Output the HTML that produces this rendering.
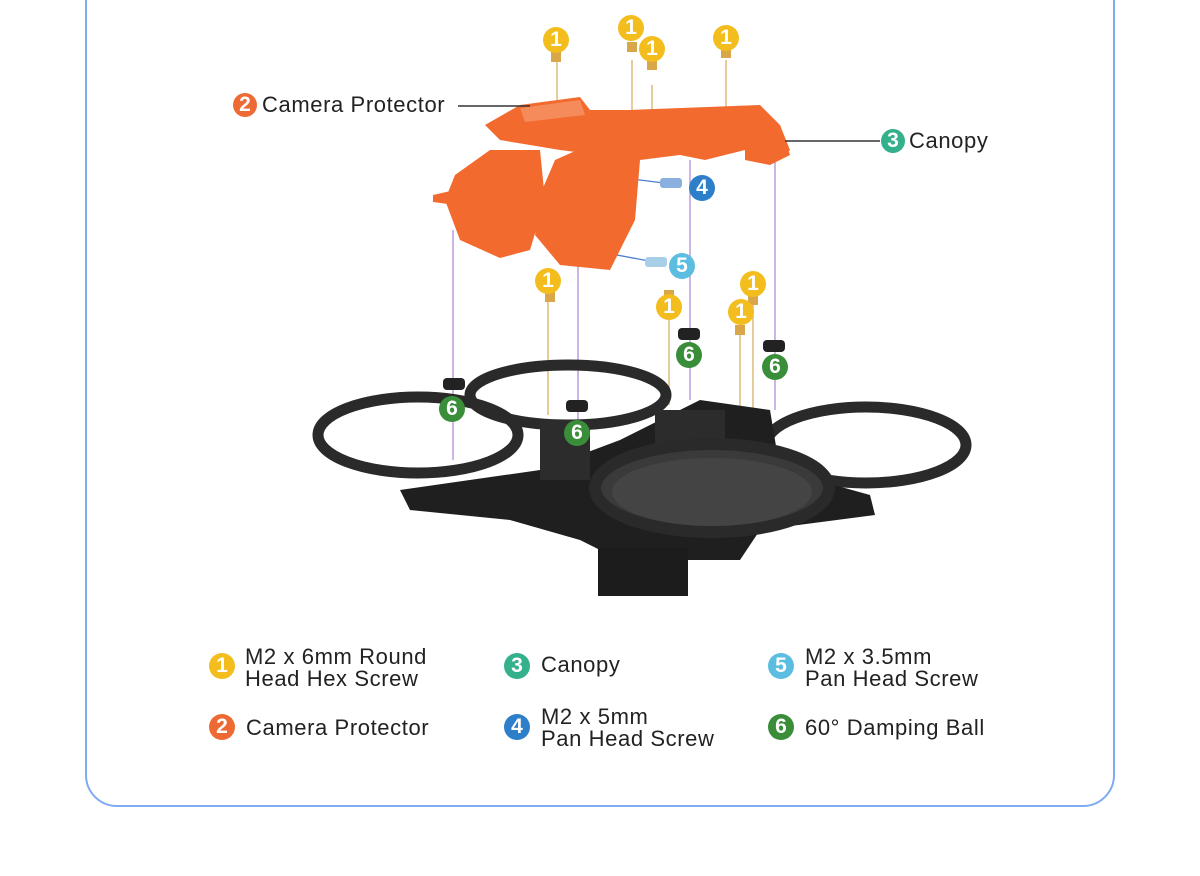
<!DOCTYPE html>
<html><head><meta charset="utf-8"><style>
html,body{margin:0;padding:0;background:#fff;}
body{width:1200px;height:876px;position:relative;overflow:hidden;font-family:"Liberation Sans",sans-serif;color:#222;}
.box{position:absolute;left:85px;top:-40px;width:1026px;height:843px;border:2.5px solid #7eabf2;border-radius:32px;}
.b{position:absolute;width:26px;height:26px;border-radius:50%;color:#fff;font-size:21px;line-height:26px;text-align:center;font-weight:bold;}
.t{position:absolute;font-size:22px;line-height:22px;color:#222;letter-spacing:0.6px;}
</style></head><body>
<div class="box"></div>
<svg width="1200" height="876" style="position:absolute;left:0;top:0">
<g stroke="#b58cd8" stroke-width="1.3">
<line x1="453" y1="230" x2="453" y2="460"/><line x1="578" y1="220" x2="578" y2="485"/>
<line x1="690" y1="160" x2="690" y2="400"/><line x1="775" y1="160" x2="775" y2="410"/>
</g>
<g stroke="#d8b060" stroke-width="1.3">
<line x1="557" y1="60" x2="557" y2="100"/><line x1="632" y1="60" x2="632" y2="110"/><line x1="652" y1="85" x2="652" y2="140"/><line x1="726" y1="60" x2="726" y2="110"/>
<line x1="548" y1="300" x2="548" y2="415"/><line x1="669" y1="300" x2="669" y2="405"/><line x1="740" y1="330" x2="740" y2="450"/><line x1="753" y1="300" x2="753" y2="420"/>
</g>
<g stroke="#4a7fd0" stroke-width="1.3"><line x1="600" y1="175" x2="680" y2="185"/><line x1="590" y1="250" x2="660" y2="263"/></g>
<g fill="none" stroke="#2a2a2a" stroke-width="11">
<ellipse cx="568" cy="395" rx="98" ry="30"/>
<ellipse cx="418" cy="435" rx="100" ry="38"/>
<ellipse cx="866" cy="445" rx="100" ry="38"/>
</g>
<path d="M400 490 L540 470 L620 440 L700 400 L770 410 L780 470 L870 495 L875 515 L760 530 L740 560 L620 560 L580 540 L510 520 L410 510Z" fill="#1f1f1f"/>
<rect x="540" y="420" width="50" height="60" fill="#2c2c2c"/><rect x="655" y="410" width="70" height="50" fill="#2c2c2c"/>
<rect x="598" y="548" width="90" height="48" fill="#1c1c1c"/>
<ellipse cx="712" cy="488" rx="117" ry="44" fill="#3a3a3a" stroke="#2a2a2a" stroke-width="12"/>
<ellipse cx="712" cy="492" rx="100" ry="34" fill="#444"/>
<g fill="#f26a2e">
<path d="M485 125 L520 105 L580 97 L590 110 L630 110 L760 105 L780 125 L790 150 L780 160 L745 150 L705 160 L680 155 L640 160 L560 150 L500 140Z"/>
<path d="M455 175 L490 150 L540 150 L545 200 L530 250 L500 258 L460 240 L445 200Z"/>
<path d="M555 160 L600 140 L640 160 L635 220 L610 270 L560 265 L535 235 L540 195Z"/>
<path d="M433 195 L455 190 L455 205 L433 202Z"/><path d="M745 130 L780 125 L790 155 L770 165 L745 160Z"/>
</g>
<path d="M520 108 L580 100 L585 115 L525 122Z" fill="#f58a5a"/>
<line x1="458" y1="106" x2="530" y2="106" stroke="#333" stroke-width="1.5"/>
<line x1="785" y1="141" x2="880" y2="141" stroke="#333" stroke-width="1.5"/>
<rect x="660" y="178" width="22" height="10" rx="3" fill="#8ab0e0"/><rect x="645" y="257" width="22" height="10" rx="3" fill="#a9cfe8"/>
<g fill="#222"><rect x="443" y="378" width="22" height="12" rx="4"/><rect x="566" y="400" width="22" height="12" rx="4"/><rect x="678" y="328" width="22" height="12" rx="4"/><rect x="763" y="340" width="22" height="12" rx="4"/></g>
<g fill="#d9a74a"><rect x="545" y="292" width="10" height="10"/><rect x="664" y="290" width="10" height="10"/><rect x="735" y="325" width="10" height="10"/><rect x="748" y="295" width="10" height="10"/>
<rect x="551" y="52" width="10" height="10"/><rect x="627" y="42" width="10" height="10"/><rect x="647" y="60" width="10" height="10"/><rect x="721" y="48" width="10" height="10"/></g>
</svg>
<div class="b" style="left:543px;top:27px;background:#f2bd1d">1</div>
<div class="b" style="left:618px;top:15px;background:#f2bd1d">1</div>
<div class="b" style="left:639px;top:36px;background:#f2bd1d">1</div>
<div class="b" style="left:713px;top:25px;background:#f2bd1d">1</div>
<div class="b" style="left:535px;top:268px;background:#f2bd1d">1</div>
<div class="b" style="left:656px;top:294px;background:#f2bd1d">1</div>
<div class="b" style="left:740px;top:271px;background:#f2bd1d">1</div>
<div class="b" style="left:728px;top:299px;background:#f2bd1d">1</div>
<div class="b" style="left:233px;top:93px;width:24px;height:24px;line-height:24px;background:#ee6a35">2</div>
<div class="t" style="left:262px;top:94px">Camera Protector</div>
<div class="b" style="left:881px;top:129px;width:24px;height:24px;line-height:24px;background:#35b08c">3</div>
<div class="t" style="left:909px;top:130px">Canopy</div>
<div class="b" style="left:689px;top:175px;background:#2d7fc9">4</div>
<div class="b" style="left:669px;top:253px;background:#5bbde0">5</div>
<div class="b" style="left:439px;top:396px;background:#3a8e3a">6</div>
<div class="b" style="left:564px;top:420px;background:#3a8e3a">6</div>
<div class="b" style="left:676px;top:342px;background:#3a8e3a">6</div>
<div class="b" style="left:762px;top:354px;background:#3a8e3a">6</div>
<div class="b" style="left:209px;top:653px;background:#f2bd1d">1</div>
<div class="t" style="left:245px;top:646px">M2 x 6mm Round<br>Head Hex Screw</div>
<div class="b" style="left:209px;top:714px;background:#ee6a35">2</div>
<div class="t" style="left:246px;top:717px">Camera Protector</div>
<div class="b" style="left:504px;top:653px;background:#35b08c">3</div>
<div class="t" style="left:541px;top:654px">Canopy</div>
<div class="b" style="left:504px;top:714px;background:#2d7fc9">4</div>
<div class="t" style="left:541px;top:706px">M2 x 5mm<br>Pan Head Screw</div>
<div class="b" style="left:768px;top:653px;background:#5bbde0">5</div>
<div class="t" style="left:805px;top:646px">M2 x 3.5mm<br>Pan Head Screw</div>
<div class="b" style="left:768px;top:714px;background:#3a8e3a">6</div>
<div class="t" style="left:805px;top:717px">60° Damping Ball</div>
</body></html>
